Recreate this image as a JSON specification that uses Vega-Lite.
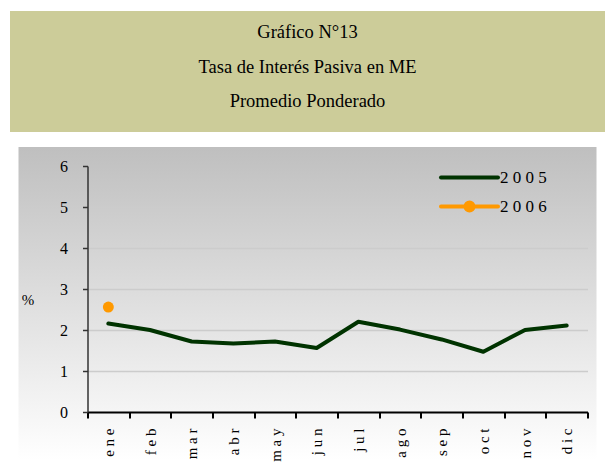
{
  "$schema": "https://vega.github.io/schema/vega-lite/v6.json",
  "padding": {"left": 10, "top": 11, "right": 0, "bottom": 10},
  "background": "white",
  "spacing": 15,
  "center": true,
  "config": {"font": "Liberation Serif, Times New Roman, serif", "view": {"stroke": null}},
  "vconcat": [
    {
      "width": 595,
      "height": 121,
      "view": {"fill": "#CCCC99", "stroke": null},
      "data": {"values": [
        {"linea": "Gráfico N°13", "n": 1},
        {"linea": "Tasa de Interés Pasiva en ME", "n": 2},
        {"linea": "Promedio Ponderado", "n": 3}
      ]},
      "mark": {"type": "text", "font": "Liberation Serif, Times New Roman, serif", "fontSize": 18.5, "color": "#000000", "align": "center", "baseline": "middle"},
      "encoding": {
        "y": {"field": "n", "type": "ordinal", "axis": null, "scale": {"type": "point", "range": [21, 90], "padding": 0}},
        "text": {"field": "linea"}
      }
    },
    {
      "width": 578,
      "height": 313,
      "view": {
        "stroke": null,
        "fill": {"gradient": "linear", "x1": 0, "y1": 0, "x2": 0, "y2": 1,
          "stops": [{"offset": 0, "color": "#bfbfbf"}, {"offset": 1, "color": "#ffffff"}]}
      },
      "data": {"values": [
        {"mes": "ene", "anio": "2005", "valor": 2.16},
        {"mes": "feb", "anio": "2005", "valor": 2.0},
        {"mes": "mar", "anio": "2005", "valor": 1.72},
        {"mes": "abr", "anio": "2005", "valor": 1.67},
        {"mes": "may", "anio": "2005", "valor": 1.72},
        {"mes": "jun", "anio": "2005", "valor": 1.56},
        {"mes": "jul", "anio": "2005", "valor": 2.2},
        {"mes": "ago", "anio": "2005", "valor": 2.01},
        {"mes": "sep", "anio": "2005", "valor": 1.77},
        {"mes": "oct", "anio": "2005", "valor": 1.47},
        {"mes": "nov", "anio": "2005", "valor": 2.0},
        {"mes": "dic", "anio": "2005", "valor": 2.11},
        {"mes": "ene", "anio": "2006", "valor": 2.56}
      ]},
      "encoding": {
        "x": {
          "field": "mes", "type": "ordinal",
          "sort": ["ene", "feb", "mar", "abr", "may", "jun", "jul", "ago", "sep", "oct", "nov", "dic"],
          "scale": {"type": "band", "range": [69, 569], "paddingInner": 0, "paddingOuter": 0},
          "axis": {
            "title": null, "offset": -48, "tickBand": "extent", "tickSize": 6,
            "tickColor": "#000000", "tickWidth": 2, "domainColor": "#000000", "domainWidth": 2,
            "labelAngle": 270, "labelFontSize": 15, "labelFont": "Liberation Serif, Times New Roman, serif", "labelColor": "#000000",
            "labelPadding": 10, "labelExpr": "join(split(datum.label, ''), ' ')", "grid": false
          }
        },
        "y": {
          "field": "valor", "type": "quantitative",
          "scale": {"domain": [0, 6], "range": [265, 19], "nice": false},
          "axis": {
            "title": "%", "titleAngle": 0, "titleX": -60, "titleY": 152, "titleAlign": "center", "titleBaseline": "middle",
            "titleFontSize": 15, "titleFontWeight": "normal", "titleFont": "Liberation Serif, Times New Roman, serif", "titleColor": "#000000",
            "offset": -69, "values": [0, 1, 2, 3, 4, 5, 6], "tickSize": 5, "tickColor": "#333333", "tickWidth": 1.5,
            "domainColor": "#333333", "domainWidth": 1.5, "labelFontSize": 16, "labelFont": "Liberation Serif, Times New Roman, serif",
            "labelColor": "#000000", "labelPadding": 15,
            "grid": true, "gridColor": "#cccccc", "gridWidth": 1.5,
            "gridOpacity": {"condition": {"test": "datum.value == 6 || datum.value == 0", "value": 0}, "value": 1}
          }
        },
        "color": {
          "field": "anio", "type": "nominal",
          "scale": {"domain": ["2005", "2006"], "range": ["#003300", "#FF9900"]},
          "legend": {
            "title": null, "orient": "none", "legendX": 445, "legendY": 152, "padding": 0, "rowPadding": 6,
            "symbolType": "M-2.28,0H2.28", "symbolSize": 625, "symbolStrokeWidth": 4,
            "labelFontSize": 17, "labelFont": "Liberation Serif, Times New Roman, serif", "labelColor": "#000000", "labelOffset": 16,
            "labelExpr": "join(split(datum.label, ''), ' ')",
            "encoding": {
              "symbols": {
                "shape": {"condition": {"test": "datum.value == '2006'", "value": "M-2.28,0H2.28M0.32,0A0.32,0.32,0,1,1,-0.32,0A0.32,0.32,0,1,1,0.32,0Z"}, "value": "M-2.28,0H2.28"},
                "fill": {"condition": {"test": "datum.value == '2006'", "value": "#FF9900"}, "value": "transparent"},
                "strokeCap": {"value": "round"}
              }
            }
          }
        }
      },
      "layer": [
        {"mark": {"type": "line", "strokeWidth": 4, "strokeCap": "round", "strokeJoin": "round"}},
        {
          "transform": [{"filter": "datum.anio == '2006'"}],
          "mark": {"type": "point", "filled": true, "size": 120, "opacity": 1}
        }
      ]
    }
  ]
}
